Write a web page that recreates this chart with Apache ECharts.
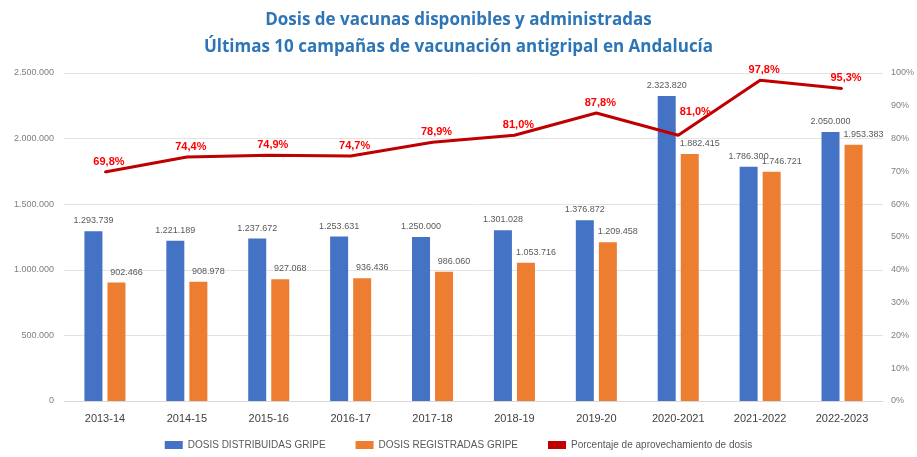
<!DOCTYPE html>
<html>
<head>
<meta charset="utf-8">
<title>Dosis de vacunas antigripal Andalucía</title>
<script src="https://cdn.jsdelivr.net/npm/echarts@6/dist/echarts.min.js"></script>
<style>
  html, body { margin: 0; padding: 0; background: #fff; }
  #chart { width: 917px; height: 457px; }
</style>
</head>
<body>
<div id="chart"></div>
<script>
const campaigns = ['2013-14', '2014-15', '2015-16', '2016-17', '2017-18', '2018-19', '2019-20', '2020-2021', '2021-2022', '2022-2023']
const distributed = [1293739, 1221189, 1237672, 1253631, 1250000, 1301028, 1376872, 2323820, 1786300, 2050000]
const registered = [902466, 908978, 927068, 936436, 986060, 1053716, 1209458, 1882415, 1746721, 1953383]
const usagePct = [69.8, 74.4, 74.9, 74.7, 78.9, 81.0, 87.8, 81.0, 97.8, 95.3]

// 1234567 -> 1.234.567
const fmtNum = v => String(Math.round(v)).replace(/\B(?=(\d{3})+(?!\d))/g, '.')
const fmtPct = v => v.toFixed(1).replace('.', ',') + '%'

const font = 'Liberation Sans'

const chart = echarts.init(document.getElementById('chart'))
chart.setOption({
  animation: false,
  title: {
    text: 'Dosis de vacunas disponibles y administradas\nÚltimas 10 campañas de vacunación antigripal en Andalucía',
    left: 'center',
    top: 2,
    textStyle: {
      fontFamily: 'Open Sans',
      fontSize: 17,
      fontWeight: 'bold',
      color: '#2E75B6',
      lineHeight: 27
    }
  },
  grid: { left: 64, right: 31, top: 73, bottom: 56 },
  legend: {
    bottom: 2,
    left: 'center',
    itemWidth: 18,
    itemHeight: 8,
    itemGap: 30,
    textStyle: { fontFamily: font, fontSize: 10, color: '#595959' },
    data: [
      { name: 'DOSIS DISTRIBUIDAS GRIPE', icon: 'rect' },
      { name: 'DOSIS REGISTRADAS GRIPE', icon: 'rect' },
      { name: 'Porcentaje de aprovechamiento de dosis', icon: 'rect', itemStyle: { color: '#C00000' } }
    ]
  },
  xAxis: {
    type: 'category',
    data: campaigns,
    axisTick: { show: false },
    axisLine: { lineStyle: { color: '#D9D9D9' } },
    axisLabel: { fontFamily: font, fontSize: 11, color: '#404040', margin: 12 }
  },
  yAxis: [
    {
      type: 'value',
      min: 0,
      max: 2500000,
      interval: 500000,
      axisLabel: { fontFamily: font, fontSize: 9, color: '#7F7F7F', margin: 10, formatter: fmtNum },
      splitLine: { lineStyle: { color: '#E3E3E3' } }
    },
    {
      type: 'value',
      min: 0,
      max: 100,
      interval: 10,
      axisLabel: { fontFamily: font, fontSize: 9, color: '#7F7F7F', margin: 8, formatter: '{value}%' },
      splitLine: { show: false }
    }
  ],
  series: [
    {
      name: 'DOSIS DISTRIBUIDAS GRIPE',
      type: 'bar',
      data: distributed,
      barWidth: 18,
      barGap: '28%',
      itemStyle: { color: '#4472C4' },
      label: {
        show: true,
        position: 'top',
        distance: 6,
        fontFamily: font,
        fontSize: 9,
        color: '#595959',
        formatter: p => fmtNum(p.value)
      }
    },
    {
      name: 'DOSIS REGISTRADAS GRIPE',
      type: 'bar',
      data: registered,
      barWidth: 18,
      itemStyle: { color: '#ED7D31' },
      label: {
        show: true,
        position: 'top',
        distance: 6,
        offset: [10, 0],
        fontFamily: font,
        fontSize: 9,
        color: '#595959',
        formatter: p => fmtNum(p.value)
      }
    },
    {
      name: 'Porcentaje de aprovechamiento de dosis',
      type: 'line',
      yAxisIndex: 1,
      // la etiqueta de 2020-2021 va a la derecha del punto
      data: usagePct.map((v, i) => i === 7
        ? { value: v, label: { position: [18, -22] } }
        : v),
      symbol: 'circle',
      symbolSize: 2,
      showSymbol: true,
      lineStyle: { color: '#C00000', width: 3 },
      itemStyle: { color: '#C00000' },
      label: {
        show: true,
        position: [5, -9],
        align: 'center',
        verticalAlign: 'middle',
        fontFamily: font,
        fontSize: 11,
        fontWeight: 'bold',
        color: '#FF0000',
        formatter: p => fmtPct(p.value)
      },
      labelLayout: { hideOverlap: false },
      z: 5
    }
  ]
})
</script>
</body>
</html>
